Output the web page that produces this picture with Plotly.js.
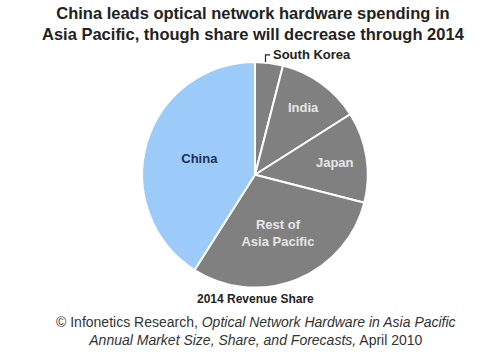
<!DOCTYPE html>
<html>
<head>
<meta charset="utf-8">
<script src="https://cdn.plot.ly/plotly-3.0.1.min.js"></script>
<style>html,body{margin:0;padding:0;background:#fff;}#chart{width:500px;height:364px;}</style>
</head>
<body>
<div id="chart"></div>
<script>
var regions = ['South Korea', 'India', 'Japan', 'Rest of Asia Pacific', 'China'];
var shares = [4, 12, 13, 30, 41];
var sliceText = ['', 'India', 'Japan', 'Rest of<br>Asia Pacific', 'China'];
var sliceColors = ['#808080', '#808080', '#808080', '#808080', '#9ccbfa'];
var textColors = ['#e6e6e6', '#e6e6e6', '#e6e6e6', '#e6e6e6', '#1b2f55'];

var trace = {
  type: 'pie',
  labels: regions,
  values: shares,
  text: sliceText,
  textinfo: 'text',
  textposition: 'inside',
  insidetextorientation: 'horizontal',
  sort: false,
  direction: 'clockwise',
  rotation: 0,
  hoverinfo: 'label+percent',
  marker: {colors: sliceColors, line: {color: '#ffffff', width: 2}},
  textfont: {family: 'Liberation Sans, Arial, sans-serif', size: 13, color: textColors, weight: 'bold'},
  domain: {x: [0.284, 0.736], y: [0.21, 0.83]},
  showlegend: false
};

var layout = {
  width: 500, height: 364,
  margin: {l: 0, r: 0, t: 0, b: 0},
  paper_bgcolor: '#ffffff',
  showlegend: false,
  shapes: [{
    type: 'path', xref: 'paper', yref: 'paper',
    path: 'M 0.531 0.830 L 0.531 0.849 L 0.540 0.849',
    line: {color: '#222222', width: 1.2}
  }],
  annotations: [
    {text: '<b>China leads optical network hardware spending in<br>Asia Pacific, though share will decrease through 2014</b>',
     xref: 'paper', yref: 'paper', x: 0.506, y: 1, xanchor: 'center', yanchor: 'top', yshift: -2, showarrow: false,
     font: {family: 'Liberation Sans, Arial, sans-serif', size: 16.5, color: '#222222'}},
    {text: '<b>South Korea</b>', xref: 'paper', yref: 'paper', x: 0.541, y: 0.849, xanchor: 'left', yanchor: 'middle', showarrow: false,
     font: {family: 'Liberation Sans, Arial, sans-serif', size: 13, color: '#222222'}},
    {text: '<b>2014 Revenue Share</b>', xref: 'paper', yref: 'paper', x: 0.51, y: 0.178, xanchor: 'center', yanchor: 'middle', showarrow: false,
     font: {family: 'Liberation Sans, Arial, sans-serif', size: 12, color: '#222222'}},
    {text: '© Infonetics Research, <i>Optical Network Hardware in Asia Pacific</i><br><i>Annual Market Size, Share, and Forecasts,</i> April 2010',
     xref: 'paper', yref: 'paper', x: 0.512, y: 0.09, xanchor: 'center', yanchor: 'middle', showarrow: false,
     font: {family: 'Liberation Sans, Arial, sans-serif', size: 14, color: '#333333'}}
  ]
};

Plotly.newPlot('chart', [trace], layout, {displayModeBar: false, staticPlot: true});
</script>
</body>
</html>
